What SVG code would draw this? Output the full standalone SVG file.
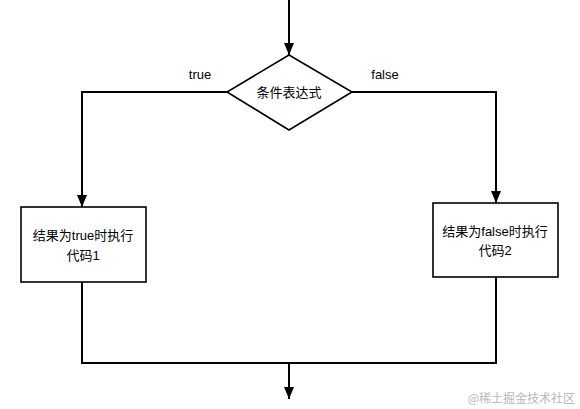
<svg xmlns="http://www.w3.org/2000/svg" width="580" height="409" viewBox="0 0 580 409">
<style>
.ln{fill:none;stroke:#000;stroke-width:2}
.shape{fill:#fff;stroke:#000;stroke-width:1.6}
.t{font-family:"Liberation Sans","Noto Sans CJK SC",sans-serif;font-size:13px;fill:#000;text-anchor:middle}
.wm{font-family:"Noto Sans CJK SC",sans-serif;font-size:12px;fill:#b8b8b8;text-anchor:end}
</style>
<defs>
<marker id="ah" viewBox="0 0 12 10" refX="12" refY="5" markerWidth="12" markerHeight="10" markerUnits="userSpaceOnUse" orient="auto">
<path d="M0,0 L12,5 L0,10 Z" fill="#000"/>
</marker>
</defs>
<rect width="580" height="409" fill="#fff"/>
<g id="connectors">
<line class="ln" x1="289" y1="0" x2="289" y2="55" marker-end="url(#ah)"/>
<polyline class="ln" points="227,92 82,92 82,207" marker-end="url(#ah)"/>
<polyline class="ln" points="352,92 496,92 496,203" marker-end="url(#ah)"/>
<polyline class="ln" points="82,282 82,363 496,363 496,277"/>
<line class="ln" x1="289" y1="363" x2="289" y2="399" marker-end="url(#ah)"/>
<text class="t" x="200" y="79">true</text>
<text class="t" x="385" y="79">false</text>
</g>
<g id="cond">
<polygon class="shape" points="289,55 352,92 289,130 227,92"/>
<text class="t" x="289" y="97">条件表达式</text>
</g>
<g id="box1">
<rect class="shape" x="21" y="207" width="125" height="75"/>
<text class="t" x="83" y="240">结果为true时执行</text>
<text class="t" x="83" y="260">代码1</text>
</g>
<g id="box2">
<rect class="shape" x="433" y="203" width="125" height="74"/>
<text class="t" x="495" y="236">结果为false时执行</text>
<text class="t" x="495" y="255">代码2</text>
</g>
<text class="wm" x="575" y="403">@稀土掘金技术社区</text>
</svg>
